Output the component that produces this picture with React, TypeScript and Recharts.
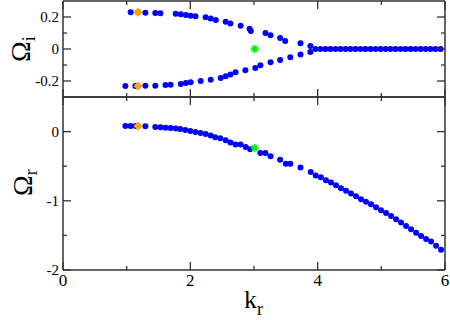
import React from 'react';
import { ScatterChart, Scatter, XAxis, YAxis } from 'recharts';

// ---------- data ----------
const upperK = [1.063, 1.178, 1.294, 1.45, 1.53, 1.77, 1.85, 1.93, 2.005, 2.08, 2.24, 2.32, 2.40, 2.555, 2.63, 2.79, 2.93, 2.95, 3.18, 3.26, 3.41, 3.49, 3.73, 3.885];
const upperW = [0.229, 0.229, 0.227, 0.225, 0.223, 0.221, 0.217, 0.213, 0.208, 0.204, 0.198, 0.19, 0.181, 0.171, 0.159, 0.146, 0.127, 0.113, 0.10, 0.086, 0.069, 0.05, 0.036, 0.019];
const lowerK = [0.98, 1.137, 1.178, 1.294, 1.45, 1.61, 1.69, 1.85, 1.93, 2.005, 2.163, 2.32, 2.477, 2.555, 2.63, 2.71, 2.865, 3.02, 3.10, 3.26, 3.41, 3.57, 3.73, 3.885];
const lowerW = [-0.231, -0.231, -0.231, -0.229, -0.229, -0.225, -0.223, -0.219, -0.212, -0.208, -0.2, -0.192, -0.181, -0.171, -0.16, -0.146, -0.133, -0.119, -0.102, -0.083, -0.069, -0.052, -0.035, -0.019];
const zeroK = [3.965, 4.044, 4.122, 4.201, 4.28, 4.358, 4.437, 4.516, 4.594, 4.673, 4.751, 4.83, 4.909, 4.987, 5.066, 5.145, 5.223, 5.302, 5.38, 5.459, 5.538, 5.616, 5.695, 5.774, 5.852, 5.931];
const zeroW = [0, 0, 0, 0, 0, 0, 0, 0, 0, 0, 0, 0, 0, 0, 0, 0, 0, 0, 0, 0, 0, 0, 0, 0, 0, 0];

const realK = [0.98, 1.06, 1.14, 1.178, 1.294, 1.45, 1.53, 1.61, 1.69, 1.77, 1.84, 1.92, 2.0, 2.08, 2.16, 2.24, 2.32, 2.39, 2.47, 2.555, 2.63, 2.71, 2.79, 2.87, 2.94, 3.10, 3.18, 3.26, 3.41, 3.50, 3.57, 3.73, 3.89, 3.97, 4.05, 4.13,
  4.209, 4.288, 4.366, 4.445, 4.524, 4.602, 4.681, 4.759, 4.838, 4.917, 4.995, 5.074, 5.153, 5.231, 5.31, 5.388, 5.467, 5.546, 5.624, 5.703, 5.781, 5.86, 5.938];
const realW = [0.081, 0.081, 0.081, 0.081, 0.078, 0.068, 0.062, 0.057, 0.052, 0.045, 0.036, 0.024, 0.01, -0.005, -0.02, -0.035, -0.058, -0.08, -0.095, -0.126, -0.159, -0.188, -0.188, -0.222, -0.256, -0.309, -0.309, -0.357, -0.405, -0.463, -0.463, -0.52, -0.583, -0.636, -0.66, -0.704,
  -0.737, -0.776, -0.817, -0.856, -0.895, -0.936, -0.976, -1.012, -1.05, -1.093, -1.136, -1.177, -1.219, -1.267, -1.315, -1.364, -1.412, -1.46, -1.507, -1.551, -1.588, -1.648, -1.706];

const orangeK = [1.178, 1.178];
const orangeWi = [0.229, -0.231];
const orangeWrK = [1.178];
const orangeWr = [0.081];
const greenKi = [3.01];
const greenWi = [0];
const greenKr = [3.01];
const greenWr = [-0.237];

const xTicks = [0, 1, 2, 3, 4, 5, 6];
const xMajor = [0, 2, 4, 6];
const yiTicks = [-0.2, -0.1, 0, 0.1, 0.2];
const yiMajor = [-0.2, 0, 0.2];
const yrTicks = [-2, -1.5, -1, -0.5, 0];
const yrMajor = [-2, -1, 0];

const zip = (xs: number[], ys: number[]) => xs.map((x, i) => ({ x, y: ys[i] }));

// ---------- styles ----------
const FONT = '"Liberation Serif", "Times New Roman", serif';
const FRAME = '#333';
const MAJ = 8;
const MIN = 4;

const isIn = (arr: number[], v: number) => arr.some((m) => Math.abs(m - v) < 1e-9);
const fmtY = (v: number) => (Math.abs(v) < 1e-9 ? '0' : String(v));

const makeTick = (side: 'b' | 't' | 'l' | 'r', majors: number[], label: boolean) => (props: any) => {
  const { x, y, payload } = props;
  const v = payload.value;
  const len = isIn(majors, v) ? MAJ : MIN;
  const showLabel = label && isIn(majors, v);
  let line;
  if (side === 'b') line = <line x1={x} y1={y} x2={x} y2={y - len} stroke={FRAME} strokeWidth={1.3} />;
  else if (side === 't') line = <line x1={x} y1={y} x2={x} y2={y + len} stroke={FRAME} strokeWidth={1.3} />;
  else if (side === 'l') line = <line x1={x} y1={y} x2={x + len} y2={y} stroke={FRAME} strokeWidth={1.3} />;
  else line = <line x1={x} y1={y} x2={x - len} y2={y} stroke={FRAME} strokeWidth={1.3} />;
  return (
    <g>
      {line}
      {showLabel && side === 'b' && (
        <text x={x} y={y + 16} textAnchor="middle" fontFamily={FONT} fontSize={17} fill="#000">
          {String(v)}
        </text>
      )}
      {showLabel && side === 'l' && (
        <text x={x - 4} y={y + 5} textAnchor="end" fontFamily={FONT} fontSize={15} fill="#000">
          {fmtY(v)}
        </text>
      )}
    </g>
  );
};

const dot = (color: string, r: number) => (props: any) => (
  <circle cx={props.cx} cy={props.cy} r={r} fill={color} />
);
const diamond = (props: any) => {
  const { cx, cy } = props;
  const s = 4.5;
  return <path d={`M${cx},${cy - s}L${cx + s},${cy}L${cx},${cy + s}L${cx - s},${cy}Z`} fill="#ffa500" />;
};
const star = (props: any) => {
  const { cx, cy } = props;
  const s = 4;
  return (
    <g stroke="#00ee00" strokeWidth={1.6}>
      <line x1={cx - s} y1={cy} x2={cx + s} y2={cy} />
      <line x1={cx} y1={cy - s} x2={cx} y2={cy + s} />
      <line x1={cx - s * 0.7} y1={cy - s * 0.7} x2={cx + s * 0.7} y2={cy + s * 0.7} />
      <line x1={cx - s * 0.7} y1={cy + s * 0.7} x2={cx + s * 0.7} y2={cy - s * 0.7} />
      <circle cx={cx} cy={cy} r={2} fill="#00ee00" stroke="none" />
    </g>
  );
};

const axisLine = { stroke: FRAME, strokeWidth: 1.5 };

const Panel = ({ width, height, margin, yTicks, yMajor, yDomain, showXLabels, children }: any) => (
  <ScatterChart width={width} height={height} margin={margin} style={{ overflow: 'visible' }}>
    <XAxis xAxisId="b" type="number" dataKey="x" domain={[0, 6]} ticks={xTicks} interval={0} orientation="bottom"
      height={1} tickSize={0} tickMargin={0} axisLine={axisLine} tickLine={false}
      tick={makeTick('b', xMajor, showXLabels)} allowDataOverflow />
    <XAxis xAxisId="t" type="number" dataKey="x" domain={[0, 6]} ticks={xTicks} interval={0} orientation="top"
      height={1} tickSize={0} tickMargin={0} axisLine={axisLine} tickLine={false}
      tick={makeTick('t', xMajor, false)} allowDataOverflow />
    <YAxis yAxisId="l" type="number" dataKey="y" domain={yDomain} ticks={yTicks} interval={0} orientation="left"
      width={1} tickSize={0} tickMargin={0} axisLine={axisLine} tickLine={false}
      tick={makeTick('l', yMajor, true)} allowDataOverflow />
    <YAxis yAxisId="r" type="number" dataKey="y" domain={yDomain} ticks={yTicks} interval={0} orientation="right"
      width={1} tickSize={0} tickMargin={0} axisLine={axisLine} tickLine={false}
      tick={makeTick('r', yMajor, false)} allowDataOverflow />
    {children}
  </ScatterChart>
);

export default function App() {
  return (
    <div style={{ position: 'absolute', left: 0, top: 0, width: 450, height: 320, background: '#fff' }}>
      <div style={{ position: 'absolute', left: 0, top: 0 }}>
        <Panel width={450} height={98} margin={{ top: 0, right: 4, bottom: 0, left: 62 }}
          yTicks={yiTicks} yMajor={yiMajor} yDomain={[-0.3, 0.3]} showXLabels={false}>
          <Scatter xAxisId="b" yAxisId="l" data={zip(upperK, upperW)} shape={dot('#0000ff', 3)} isAnimationActive={false} />
          <Scatter xAxisId="b" yAxisId="l" data={zip(lowerK, lowerW)} shape={dot('#0000ff', 3)} isAnimationActive={false} />
          <Scatter xAxisId="b" yAxisId="l" data={zip(zeroK, zeroW)} shape={dot('#0000ff', 3)} isAnimationActive={false} />
          <Scatter xAxisId="b" yAxisId="l" data={zip(orangeK, orangeWi)} shape={diamond} isAnimationActive={false} />
          <Scatter xAxisId="b" yAxisId="l" data={zip(greenKi, greenWi)} shape={star} isAnimationActive={false} />
        </Panel>
      </div>
      <div style={{ position: 'absolute', left: 0, top: 96 }}>
        <Panel width={450} height={224} margin={{ top: 0, right: 4, bottom: 49, left: 62 }}
          yTicks={yrTicks} yMajor={yrMajor} yDomain={[-2, 0.5]} showXLabels={true}>
          <Scatter xAxisId="b" yAxisId="l" data={zip(realK, realW)} shape={dot('#0000ff', 3)} isAnimationActive={false} />
          <Scatter xAxisId="b" yAxisId="l" data={zip(orangeWrK, orangeWr)} shape={diamond} isAnimationActive={false} />
          <Scatter xAxisId="b" yAxisId="l" data={zip(greenKr, greenWr)} shape={star} isAnimationActive={false} />
        </Panel>
      </div>
      <svg width={450} height={320} style={{ position: 'absolute', left: 0, top: 0, pointerEvents: 'none' }}>
        <text transform="rotate(-90 30 62)" x={30} y={62} fontFamily={FONT} fontSize={28} fill="#000">
          Ω<tspan fontSize={18} dy={5}>i</tspan>
        </text>
        <text transform="rotate(-90 32 196)" x={32} y={196} fontFamily={FONT} fontSize={28} fill="#000">
          Ω<tspan fontSize={18} dy={5}>r</tspan>
        </text>
        <text x={244} y={308} fontFamily={FONT} fontSize={26} fill="#000">
          k<tspan fontSize={18} dy={7}>r</tspan>
        </text>
      </svg>
    </div>
  );
}
